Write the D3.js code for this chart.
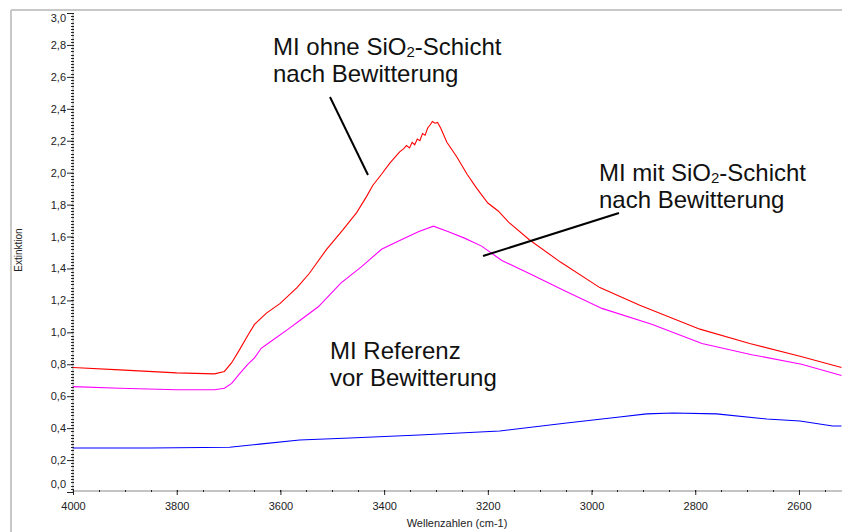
<!DOCTYPE html>
<html>
<head>
<meta charset="utf-8">
<script src="https://cdn.jsdelivr.net/npm/d3@7"></script>
<style>
  html, body { margin: 0; padding: 0; background: #fff; }
  svg { display: block; font-family: "Liberation Sans", Arial, sans-serif; }
</style>
</head>
<body>
<svg id="chart" width="842" height="532"></svg>
<script>
// IR spectra: extinction over wavenumber (cm-1)
const ohneWn  = [4000, 3910, 3800, 3727, 3708, 3694, 3679, 3663, 3650, 3627, 3601, 3568, 3544, 3511, 3480, 3453, 3434, 3422, 3405, 3389, 3370, 3362, 3357, 3351, 3346, 3341, 3336, 3331, 3326, 3321, 3316, 3311, 3307, 3302, 3297, 3291, 3279, 3260, 3240, 3221, 3200, 3180, 3160, 3120, 3060, 2984, 2907, 2791, 2695, 2598, 2518];
const ohneExt = [0.78, 0.765, 0.746, 0.74, 0.755, 0.81, 0.89, 0.98, 1.05, 1.12, 1.18, 1.28, 1.37, 1.52, 1.64, 1.75, 1.85, 1.92, 1.99, 2.06, 2.13, 2.15, 2.17, 2.155, 2.19, 2.175, 2.21, 2.2, 2.245, 2.235, 2.28, 2.3, 2.32, 2.31, 2.315, 2.28, 2.19, 2.10, 1.99, 1.90, 1.81, 1.76, 1.69, 1.58, 1.44, 1.28, 1.17, 1.02, 0.93, 0.85, 0.78];

const mitWn  = [4000, 3910, 3800, 3727, 3708, 3694, 3679, 3663, 3650, 3637, 3624, 3585, 3560, 3527, 3483, 3444, 3405, 3367, 3334, 3305, 3276, 3245, 3212, 3173, 3115, 3058, 2980, 2884, 2787, 2691, 2595, 2518];
const mitExt = [0.66, 0.65, 0.64, 0.64, 0.65, 0.68, 0.74, 0.80, 0.84, 0.90, 0.93, 1.02, 1.08, 1.16, 1.31, 1.41, 1.52, 1.58, 1.63, 1.665, 1.63, 1.59, 1.54, 1.45, 1.36, 1.27, 1.15, 1.05, 0.93, 0.86, 0.80, 0.73];

const refWn  = [4000, 3852, 3698, 3640, 3563, 3466, 3332, 3177, 3048, 2946, 2894, 2843, 2759, 2662, 2598, 2535, 2518];
const refExt = [0.276, 0.276, 0.28, 0.30, 0.326, 0.338, 0.357, 0.382, 0.432, 0.47, 0.489, 0.495, 0.489, 0.457, 0.445, 0.413, 0.413];

const series = [
  { name: "MI ohne SiO2-Schicht nach Bewitterung", wn: ohneWn, ext: ohneExt, color: "#ff0000" },
  { name: "MI mit SiO2-Schicht nach Bewitterung",  wn: mitWn,  ext: mitExt,  color: "#ff00ff" },
  { name: "MI Referenz vor Bewitterung",           wn: refWn,  ext: refExt,  color: "#0000ff" }
];

const xMajor = [4000, 3800, 3600, 3400, 3200, 3000, 2800, 2600];
const yMajor = [0, 0.2, 0.4, 0.6, 0.8, 1.0, 1.2, 1.4, 1.6, 1.8, 2.0, 2.2, 2.4, 2.6, 2.8, 3.0];

const svg = d3.select("#chart");
const W = 842, H = 532;
const plotL = 73, plotR = 842, plotT = 13, plotB = 492;

const x = d3.scaleLinear().domain([4000, 2517]).range([plotL, plotR]);
const y = d3.scaleLinear().domain([0, 3]).range([plotB, plotT]);

// outer frame
svg.append("line").attr("x1", 11).attr("x2", 11).attr("y1", 10).attr("y2", H)
  .attr("stroke", "#c8c8c8").attr("stroke-width", 2);
svg.append("line").attr("x1", 11).attr("x2", W).attr("y1", 10).attr("y2", 10)
  .attr("stroke", "#c8c8c8").attr("stroke-width", 2);

const fmt = d => d3.format(".1f")(d).replace(".", ",");

// y axis: minor ticks every 0.02, major every 0.2
const yMinor = d3.range(0, 3.0001, 0.02);
const gy = svg.append("g");
gy.append("line").attr("x1", plotL).attr("x2", plotL).attr("y1", y(3)).attr("y2", plotB)
  .attr("stroke", "#bdbdbd").attr("stroke-width", 1.5);
gy.selectAll("line.minor").data(yMinor).join("line").attr("class", "minor")
  .attr("x1", plotL - 2).attr("x2", plotL + 1)
  .attr("y1", d => Math.round(y(d)) + 0.5).attr("y2", d => Math.round(y(d)) + 0.5)
  .attr("stroke", "#222").attr("stroke-width", 1);
const yAxis = d3.axisLeft(y).tickValues(yMajor).tickFormat(fmt).tickSize(6).tickSizeOuter(0);
const gyAxis = svg.append("g").attr("transform", `translate(${plotL},0)`).call(yAxis);
gyAxis.select(".domain").remove();
gyAxis.selectAll(".tick line").attr("stroke", "#222");
gyAxis.selectAll(".tick text").attr("font-size", 11).attr("fill", "#222")
  .attr("font-family", "Liberation Sans, Arial, sans-serif").attr("x", -7);
gyAxis.selectAll(".tick text").filter(d => d === 0).attr("dy", "-0.45em");
gyAxis.selectAll(".tick text").filter(d => d === 3).attr("dy", "0.75em");

// x axis: minor ticks every 50, major every 200
const xMinor = d3.range(4000, 2517, -50);
svg.append("line").attr("x1", plotL).attr("x2", plotR).attr("y1", 491).attr("y2", 491)
  .attr("stroke", "#c4c4c4").attr("stroke-width", 2);
svg.selectAll("line.xminor").data(xMinor).join("line").attr("class", "xminor")
  .attr("x1", d => Math.round(x(d)) + 0.5).attr("x2", d => Math.round(x(d)) + 0.5)
  .attr("y1", 490).attr("y2", 492).attr("stroke", "#222").attr("stroke-width", 1);
const xAxis = d3.axisBottom(x).tickValues(xMajor).tickFormat(d3.format("d")).tickSize(5).tickSizeOuter(0);
const gxAxis = svg.append("g").attr("transform", `translate(0,490)`).call(xAxis);
gxAxis.select(".domain").remove();
gxAxis.selectAll(".tick line").attr("stroke", "#222");
gxAxis.selectAll(".tick text").attr("font-size", 11).attr("fill", "#222")
  .attr("font-family", "Liberation Sans, Arial, sans-serif").attr("y", 12);

// axis titles
svg.append("text").attr("x", 457).attr("y", 527).attr("text-anchor", "middle")
  .attr("font-size", 11).attr("fill", "#222").text("Wellenzahlen (cm-1)");
svg.append("text").attr("transform", "translate(22,250) rotate(-90)").attr("text-anchor", "middle")
  .attr("font-size", 10).attr("fill", "#222").text("Extinktion");

// spectra
svg.append("clipPath").attr("id", "plotClip").append("rect")
  .attr("x", plotL).attr("y", 0).attr("width", plotR - plotL).attr("height", plotB);
const line = d3.line().x(d => x(d[0])).y(d => y(d[1]));
svg.append("g").attr("clip-path", "url(#plotClip)")
  .selectAll("path").data(series).join("path")
  .attr("d", s => line(s.wn.map((w, i) => [w, s.ext[i]])))
  .attr("fill", "none").attr("stroke", s => s.color).attr("stroke-width", 1.1);

// annotations (chemical formula with subscript digit)
function label(xp, yp, pre, sub, post) {
  const t = svg.append("text").attr("x", xp).attr("y", yp).attr("font-size", 24).attr("fill", "#111");
  t.append("tspan").text(pre);
  if (sub) {
    t.append("tspan").attr("font-size", 15).attr("dy", 2).text(sub);
    t.append("tspan").attr("dy", -2).text(post);
  }
}
label(273, 55, "MI ohne SiO", "2", "-Schicht");
label(273, 82, "nach Bewitterung");
label(599, 181, "MI mit SiO", "2", "-Schicht");
label(599, 208, "nach Bewitterung");
label(330, 359, "MI Referenz");
label(330, 386, "vor Bewitterung");

svg.append("line").attr("x1", 330).attr("y1", 97).attr("x2", 368).attr("y2", 175)
  .attr("stroke", "#000").attr("stroke-width", 2);
svg.append("line").attr("x1", 483).attr("y1", 256).attr("x2", 619).attr("y2", 213)
  .attr("stroke", "#000").attr("stroke-width", 2);
</script>
</body>
</html>
